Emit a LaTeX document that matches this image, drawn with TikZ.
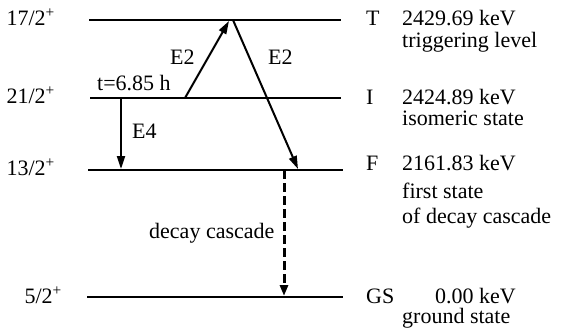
\documentclass[tikz,border=0pt]{standalone}
\usepackage{fontspec}
\setmainfont{Liberation Serif}
\usepackage{tikz}
\usetikzlibrary{positioning, arrows.meta, calc}

\begin{document}
\begin{tikzpicture}[
  x=1pt, y=1pt,
  font=\fontsize{22}{26}\selectfont,
  level/.style={line width=2pt},
  arr/.style={line width=2pt, -{Triangle[length=13pt,width=8pt]}},
  casc/.style={line width=3pt, dash pattern=on 9pt off 4pt,
               -{Triangle[length=11pt,width=8pt]}},
  spin/.style={anchor=base east, inner sep=0pt},
  lbl/.style={anchor=base west, inner sep=0pt}
]
  \useasboundingbox (0,0) rectangle (563,333);

  % Levels
  \coordinate (T1) at (89,313);  \coordinate (T2) at (341,313);
  \coordinate (I1) at (90,235);  \coordinate (I2) at (341,235);
  \coordinate (F1) at (88,163);  \coordinate (F2) at (343,163);
  \coordinate (G1) at (87,36);   \coordinate (G2) at (343,36);
  \draw[level] (T1) -- (T2);
  \draw[level] (I1) -- (I2);
  \draw[level] (F1) -- (F2);
  \draw[level] (G1) -- (G2);

  % Spins
  \node[spin] (sT) at (55,308) {17/2\textsuperscript{+}};
  \node[spin] (sI) at (55,230) {21/2\textsuperscript{+}};
  \node[spin] (sF) at (55,158) {13/2\textsuperscript{+}};
  \node[spin] (sG) at (62,30)  {5/2\textsuperscript{+}};

  % Level names and energies
  \node[lbl] (nT) at (366,308) {T};
  \node[lbl] (eT) at (402,308) {2429.69 keV};
  \node[lbl] (dT) at (402,286) {triggering level};
  \node[lbl] (nI) at (366,229) {I};
  \node[lbl] (eI) at (402,229) {2424.89 keV};
  \node[lbl] (dI) at (402,208) {isomeric state};
  \node[lbl] (nF) at (366,163) {F};
  \node[lbl] (eF) at (402,163) {2161.83 keV};
  \node[lbl] (dF) at (402,135) {first state};
  \node[lbl] (dF2) at (402,110) {of decay cascade};
  \node[lbl] (nG) at (366,30)  {GS};
  \node[lbl] (eG) at (435,30)  {0.00 keV};
  \node[lbl] (dG) at (402,10)  {ground state};

  % Transitions
  \coordinate (up0) at (185,235);  \coordinate (up1) at (229,312);
  \coordinate (dn0) at (233,313);  \coordinate (dn1) at (298,164);
  \coordinate (iso0) at (121,235); \coordinate (iso1) at (121,164);
  \coordinate (cas0) at (284,163); \coordinate (cas1) at (284,37);
  \draw[arr] (up0) -- (up1);
  \draw[arr] (dn0) -- (dn1);
  \draw[arr] (iso0) -- (iso1);
  \draw[casc] (cas0) -- (cas1);

  \node[lbl] (life) at (97,243) {t=6.85 h};
  \node[lbl] (mUp) at (170,269) {E2};
  \node[lbl] (mDn) at (268,269) {E2};
  \node[lbl] (mIso) at (132,195) {E4};
  \node[lbl] (mCas) at (149,95) {decay cascade};
\end{tikzpicture}
\end{document}
